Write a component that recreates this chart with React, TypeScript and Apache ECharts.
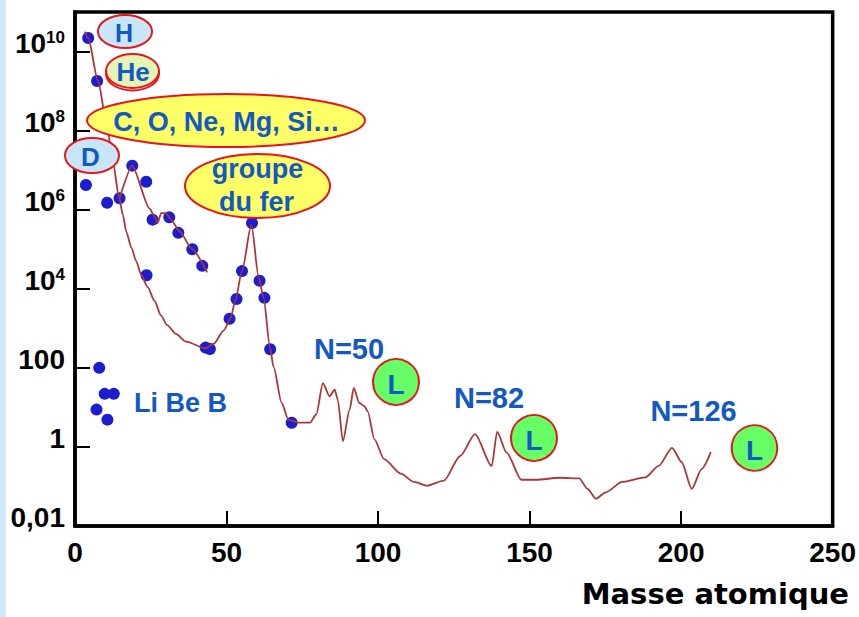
import React, { useEffect, useRef } from "react";
import * as echarts from "echarts";

// Courbe principale (enveloppe) : masse atomique / abondance relative
const envelopeMass = [3.3, 4.35, 7.6, 10.4, 12.5, 14.6, 15.8, 16.9, 18.6, 20.2, 21.8, 24.0, 26.2, 28.4, 30.4, 33.3, 36.6, 43.1, 45.8, 49.1, 51.3, 52.9, 55.1, 58.2, 60.6, 62.2, 64.4, 65.5, 68.2, 70.4, 73.6, 77.5, 79.6, 81.8, 84.0, 85.7, 86.7, 88.4, 90.6, 92.0, 93.8, 95.5, 96.6, 98.8, 102.0, 107.5, 111.9, 116.2, 121.7, 127.1, 132.0, 137.5, 139.3, 142.4, 147.3, 152.2, 160.0, 166.4, 169.1, 171.9, 175.1, 180.6, 188.2, 192.6, 197.0, 200.2, 203.5, 206.8, 209.8];
const envelopeAbundance = [3.2e10, 2.2e10, 1.8e9, 1.6e8, 1.6e7, 1.95e6, 7.4e5, 2.8e5, 1.1e5, 5.0e4, 2.3e4, 1.1e4, 5.0e3, 2.1e3, 1.2e3, 720, 460, 310, 410, 890, 1.75e3, 5.0e3, 2.8e4, 4.2e5, 1.95e4, 6.0e3, 310, 107, 12.9, 4.9, 4.1, 4.1, 6.6, 41, 19, 28, 15.8, 1.4, 8.7, 31, 12.9, 10.7, 7.9, 1.55, 0.49, 0.21, 0.13, 0.105, 0.14, 0.59, 2.1, 0.33, 2.4, 0.72, 0.148, 0.148, 0.166, 0.16, 0.087, 0.049, 0.071, 0.13, 0.17, 0.33, 0.95, 0.41, 0.087, 0.28, 0.74];

// Courbe des noyaux pairs (C, O, Ne, Mg, Si...)
const pairMass = [14.7, 18.9, 24.5, 26.2, 27.3, 28.4, 30.0, 31.7, 34.4, 38.7, 43.6];
const pairAbundance = [1.95e6, 1.3e7, 1.1e6, 6.8e5, 4.6e5, 8.2e5, 8.2e5, 5.6e5, 2.9e5, 1.0e5, 2.6e4];

// Points mesurés
const dotMass = [4.35, 7.3, 3.6, 10.6, 14.7, 18.9, 23.5, 25.6, 31.1, 34.1, 38.7, 42.0, 23.6, 58.4, 55.1, 60.9, 53.3, 62.5, 51.0, 43.1, 44.5, 64.4, 71.5, 8.0, 9.8, 12.8, 7.1, 10.7];
const dotAbundance = [2.2e10, 1.8e9, 4.2e6, 1.5e6, 1.95e6, 1.3e7, 5.1e6, 5.6e5, 6.4e5, 2.6e5, 1.0e5, 3.8e4, 2.2e4, 4.6e5, 2.8e4, 1.6e4, 5.5e3, 5.9e3, 1.75e3, 325, 300, 295, 4.1, 100, 22, 22, 8.8, 4.9];

// Graduations
const yTickExponents = [-2, 0, 2, 4, 6, 8, 10];
const yPlainLabels: Record<number, string> = { [-2]: "0,01", 0: "1", 2: "100" };
const xTitle = "Masse atomique";

const FONT = '"Liberation Sans", Arial, sans-serif';
const BLUE = "#1359c4";
const RED = "#e8141c";
const LIGHT_BLUE = "#c9e6f9";
const YELLOW = "#ffff66";
const GREEN = "#66ff66";

function toPairs(xs: number[], ys: number[]) {
  return xs.map((x, i) => [x, Math.log10(ys[i])]);
}

function ell(cx: number, cy: number, rx: number, ry: number, fill: string) {
  return {
    type: "ellipse",
    shape: { cx, cy, rx, ry },
    style: { fill, stroke: RED, lineWidth: 2 },
    z: 100,
  };
}
function circ(cx: number, cy: number, r: number, fill: string) {
  return {
    type: "circle",
    shape: { cx, cy, r },
    style: { fill, stroke: RED, lineWidth: 2 },
    z: 100,
  };
}
function txt(x: number, y: number, text: string, size: number, color = BLUE) {
  return {
    type: "text",
    x,
    y,
    style: {
      text,
      fill: color,
      fontSize: size,
      fontWeight: "bold",
      fontFamily: FONT,
      align: "center",
      verticalAlign: "middle",
    },
    z: 101,
  };
}

export default function App() {
  const ref = useRef<HTMLDivElement>(null);
  useEffect(() => {
    document.body.style.margin = "0";
    const chart = echarts.init(ref.current!, null, { renderer: "svg" });
    chart.setOption({
      animation: false,
      backgroundColor: "#ffffff",
      grid: {
        left: 75,
        top: 12,
        width: 759,
        height: 514,
        show: true,
        borderColor: "#000",
        borderWidth: 3.5,
        backgroundColor: "transparent",
      },
      xAxis: {
        type: "value",
        position: "bottom",
        min: 0,
        max: 250,
        interval: 50,
        axisLine: { show: true, onZero: false, lineStyle: { color: "#000", width: 3.5 } },
        splitLine: { show: false },
        axisTick: { show: true, inside: true, length: 15, lineStyle: { color: "#000", width: 2 } },
        axisLabel: {
          margin: 12,
          color: "#000",
          fontSize: 28,
          fontWeight: "bold",
          fontFamily: FONT,
        },
      },
      yAxis: {
        type: "value",
        position: "left",
        min: -2,
        max: 11,
        interval: 2,
        axisLine: { show: true, onZero: false, lineStyle: { color: "#000", width: 3.5 } },
        splitLine: { show: false },
        axisTick: { show: true, inside: true, length: 15, lineStyle: { color: "#000", width: 2 } },
        axisLabel: {
          margin: 10,
          showMaxLabel: false,
          color: "#000",
          fontSize: 28,
          fontWeight: "bold",
          fontFamily: FONT,
          padding: [0, 0, 17, 0],
          formatter: (v: number) => {
            const e = Math.round(v);
            if (!yTickExponents.includes(e)) return "";
            if (yPlainLabels[e] !== undefined) return yPlainLabels[e];
            return `{b|10}{s|${e}}`;
          },
          rich: {
            b: { fontSize: 28, fontWeight: "bold", fontFamily: FONT, color: "#000" },
            s: { fontSize: 17, fontWeight: "bold", fontFamily: FONT, color: "#000", verticalAlign: "top" },
          },
        },
      },
      series: [
        {
          type: "scatter",
          data: toPairs(dotMass, dotAbundance),
          symbolSize: 12,
          itemStyle: { color: "#1c1cd0", opacity: 1 },
          z: 2,
        },
        {
          type: "line",
          data: toPairs(envelopeMass, envelopeAbundance),
          showSymbol: false,
          smooth: 0.25,
          smoothMonotone: "x",
          lineStyle: { color: "#a83838", width: 1.8 },
          z: 3,
        },
        {
          type: "line",
          data: toPairs(pairMass, pairAbundance),
          showSymbol: false,
          smooth: 0.2,
          smoothMonotone: "x",
          lineStyle: { color: "#a83838", width: 1.8 },
          z: 3,
        },
      ],
      graphic: [
        { type: "rect", shape: { x: 0, y: 0, width: 6, height: 617 }, style: { fill: "#cde9fb" }, z: 100 },
        ell(125, 31.5, 27, 16.5, LIGHT_BLUE),
        txt(124, 33, "H", 25),
        ell(132.5, 73.5, 26.5, 17, "none"),
        ell(132.5, 71, 26.5, 17, "#e4f4b4"),
        txt(133, 72, "He", 26),
        ell(226, 120.5, 139, 26.5, YELLOW),
        txt(226.5, 122, "C, O, Ne, Mg, Si…", 27),
        ell(92, 155.5, 27, 17.5, LIGHT_BLUE),
        txt(90.5, 157, "D", 26),
        ell(257.5, 186, 72.5, 32, YELLOW),
        txt(257.5, 169, "groupe", 27),
        txt(256.5, 202, "du fer", 27),
        circ(396, 382, 23, GREEN),
        txt(396, 384, "L", 28),
        circ(534, 438, 23, GREEN),
        txt(534, 440, "L", 28),
        circ(754.5, 448, 22.8, GREEN),
        txt(754.5, 450, "L", 28),
        txt(349, 349, "N=50", 29),
        txt(489, 398, "N=82", 29),
        txt(693.5, 411, "N=126", 29),
        txt(180.5, 403, "Li Be B", 27),
        {
          type: "text",
          x: 849,
          y: 594,
          style: {
            text: xTitle,
            fill: "#000",
            fontSize: 29,
            fontWeight: "bold",
            fontFamily: '"DejaVu Sans", sans-serif',
            align: "right",
            verticalAlign: "middle",
          },
          z: 101,
        },
      ],
    });
    return () => chart.dispose();
  }, []);
  return (
    <div
      ref={ref}
      style={{ position: "absolute", left: 0, top: 0, width: 859, height: 617, background: "#fff" }}
    />
  );
}
